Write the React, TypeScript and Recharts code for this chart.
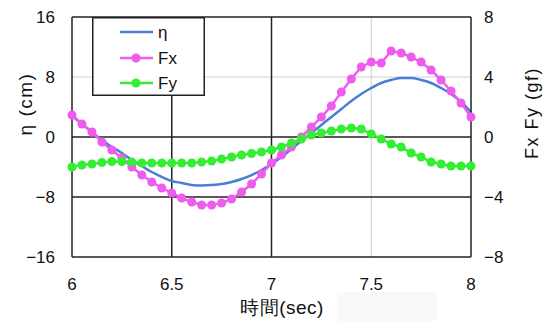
import React from "react";
import { LineChart, Line, XAxis, YAxis, ReferenceLine, Legend } from "recharts";

const time = [
  6.0, 6.05, 6.1, 6.15, 6.2, 6.25, 6.3, 6.35, 6.4, 6.45, 6.5, 6.55, 6.6, 6.65, 6.7, 6.75, 6.8, 6.85, 6.9, 6.95,
  7.0, 7.05, 7.1, 7.15, 7.2, 7.25, 7.3, 7.35, 7.4, 7.45, 7.5, 7.55, 7.6, 7.65, 7.7, 7.75, 7.8, 7.85, 7.9, 7.95, 8.0,
];
const eta = [
  2.8, 1.73, 0.67, -0.4, -1.33, -2.13, -3.07, -3.87, -4.67, -5.33, -5.87, -6.13, -6.4, -6.47, -6.4, -6.27, -6.0, -5.6,
  -5.07, -4.4, -3.6, -2.67, -1.6, -0.53, 0.53, 1.6, 2.67, 3.73, 4.8, 5.73, 6.53, 7.2, 7.6, 7.87, 7.87, 7.6, 7.2, 6.53,
  5.73, 4.67, 3.33,
];
const fx = [
  1.47, 0.87, 0.33, -0.33, -0.87, -1.4, -2.0, -2.53, -3.0, -3.4, -3.73, -4.07, -4.33, -4.53, -4.53, -4.4, -4.13, -3.67,
  -3.13, -2.47, -1.73, -1.2, -0.67, 0.0, 0.67, 1.33, 2.07, 3.0, 3.87, 4.67, 5.0, 4.93, 5.73, 5.6, 5.33, 5.0, 4.47, 3.8,
  3.07, 2.27, 1.33,
];
const fy = [
  -2.0, -1.87, -1.8, -1.7, -1.63, -1.63, -1.67, -1.73, -1.73, -1.73, -1.73, -1.73, -1.73, -1.67, -1.6, -1.47, -1.33,
  -1.2, -1.1, -1.0, -0.87, -0.67, -0.4, -0.13, 0.13, 0.27, 0.4, 0.53, 0.6, 0.53, 0.2, -0.13, -0.47, -0.67, -1.07, -1.33,
  -1.67, -1.8, -1.93, -1.93, -1.93,
];
const xTicks = [6, 6.5, 7, 7.5, 8];
const leftTicks = [-16, -8, 0, 8, 16];
const rightTicks = [-8, -4, 0, 4, 8];

const data = time.map((t, i) => ({ t, eta: eta[i], fx: fx[i], fy: fy[i] }));

const FONT = "'Liberation Sans', Arial, sans-serif";
const DARK = "#222";
const LIGHT = "#cfcfcf";
const BLUE = "#4a7ed6";
const MAGENTA = "#ee5cee";
const GREEN = "#33ee33";

const fmt = (v: number) => (v < 0 ? "\u2212" + String(-v) : String(v));

const LegendBox = () => {
  const rows = [
    { name: "\u03b7", color: BLUE, dot: false, y: 15 },
    { name: "Fx", color: MAGENTA, dot: true, y: 41 },
    { name: "Fy", color: GREEN, dot: true, y: 66 },
  ];
  return (
    <svg width={113} height={79} style={{ display: "block" }}>
      <rect x={0.75} y={0.75} width={111.5} height={77.5} fill="#fff" stroke={DARK} strokeWidth={1.5} />
      {rows.map((r) => (
        <g key={r.name}>
          <line x1={28} x2={61} y1={r.y} y2={r.y} stroke={r.color} strokeWidth={2.5} />
          {r.dot && <circle cx={44} cy={r.y} r={4.5} fill={r.color} />}
          <text x={66} y={r.y} dy="0.36em" fontSize={17} fontFamily={FONT} fill="#111">
            {r.name}
          </text>
        </g>
      ))}
    </svg>
  );
};

export default function App() {
  return (
    <div style={{ position: "absolute", left: 0, top: 0, width: 547, height: 321, background: "#fff" }}>
      <LineChart width={547} height={321} data={data} margin={{ top: 17, right: 0, bottom: 0, left: 0 }}>
        <XAxis
          dataKey="t"
          type="number"
          domain={[6, 8]}
          ticks={xTicks}
          height={64}
          tickSize={0}
          tickMargin={21}
          axisLine={{ stroke: DARK, strokeWidth: 1.5 }}
          tick={{ fontSize: 17, fontFamily: FONT, fill: "#111" }}
          label={{
            content: () => (
              <text x={282} y={314} textAnchor="middle" fontSize={19} fontFamily={FONT} fill="#111" letterSpacing={0.5}>
                時間(sec)
              </text>
            ),
          }}
        />
        <YAxis
          yAxisId="left"
          orientation="left"
          domain={[-16, 16]}
          ticks={leftTicks}
          width={72}
          tickSize={0}
          tickMargin={17}
          tickFormatter={fmt}
          axisLine={{ stroke: DARK, strokeWidth: 1.5 }}
          tick={{ fontSize: 17, fontFamily: FONT, fill: "#111" }}
          label={{
            content: () => (
              <text
                x={25}
                y={104}
                textAnchor="middle"
                dy="0.36em"
                transform="rotate(-90 25 104)"
                fontSize={19}
                letterSpacing={1.5}
                fontFamily={FONT}
                fill="#111"
              >
                {"\u03b7 (cm)"}
              </text>
            ),
          }}
        />
        <YAxis
          yAxisId="right"
          orientation="right"
          domain={[-8, 8]}
          ticks={rightTicks}
          width={76}
          tickSize={0}
          tickMargin={13}
          tickFormatter={fmt}
          axisLine={{ stroke: DARK, strokeWidth: 1.5 }}
          tick={{ fontSize: 17, fontFamily: FONT, fill: "#111" }}
          label={{
            content: () => (
              <text
                x={532}
                y={113}
                textAnchor="middle"
                dy="0.36em"
                transform="rotate(-90 532 113)"
                fontSize={18}
                letterSpacing={1.5}
                fontFamily={FONT}
                fill="#111"
              >
                Fx Fy (gf)
              </text>
            ),
          }}
        />
        <ReferenceLine yAxisId="left" y={8} stroke={LIGHT} strokeWidth={1} />
        <ReferenceLine yAxisId="left" x={7.5} stroke={LIGHT} strokeWidth={1} />
        <ReferenceLine yAxisId="left" y={0} stroke={DARK} strokeWidth={1.5} />
        <ReferenceLine yAxisId="left" y={-8} stroke={DARK} strokeWidth={1.5} />
        <ReferenceLine yAxisId="left" x={6.5} stroke={DARK} strokeWidth={1.5} />
        <ReferenceLine yAxisId="left" x={7} stroke={DARK} strokeWidth={1.5} />
        <ReferenceLine yAxisId="left" y={16} stroke={DARK} strokeWidth={1.5} />
        <Line
          yAxisId="left"
          dataKey="eta"
          name={"\u03b7"}
          type="monotone"
          stroke={BLUE}
          strokeWidth={2.5}
          dot={false}
          isAnimationActive={false}
        />
        <Line
          yAxisId="right"
          dataKey="fx"
          name="Fx"
          type="linear"
          stroke={MAGENTA}
          strokeWidth={2.5}
          dot={{ r: 4.5, fill: MAGENTA, stroke: "none" }}
          isAnimationActive={false}
        />
        <Line
          yAxisId="right"
          dataKey="fy"
          name="Fy"
          type="linear"
          stroke={GREEN}
          strokeWidth={2.5}
          dot={{ r: 4.5, fill: GREEN, stroke: "none" }}
          isAnimationActive={false}
        />
        <Legend
          layout="vertical"
          align="center"
          verticalAlign="middle"
          wrapperStyle={{ left: 92, top: 17, width: 113, height: 79 }}
          content={() => <LegendBox />}
        />
      </LineChart>
      <div
        style={{ position: "absolute", left: 337, top: 292, width: 100, height: 29, background: "#f9f9f9" }}
      />
    </div>
  );
}
